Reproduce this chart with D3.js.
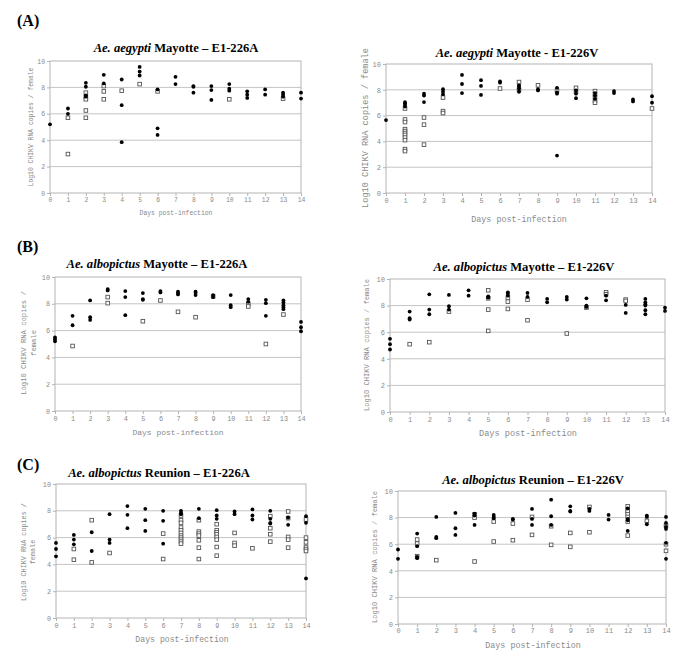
<!DOCTYPE html>
<html>
<head>
<meta charset="utf-8">
<script src="https://cdn.jsdelivr.net/npm/d3@7"></script>
<style>
  body { margin: 0; background: #fff; }
  .tick text, .ylab, .xlab { font-family: "Liberation Mono", "DejaVu Sans Mono", monospace; fill: #8a8a8a; }
  .title, .plab { font-family: "Liberation Serif", "Times New Roman", serif; font-weight: bold; fill: #000; }
</style>
</head>
<body>
<svg id="fig" width="685" height="663"></svg>
<script>
// values: [day, log10 copies]
var days = d3.range(0, 15);
var yTicks = [0, 2, 4, 6, 8, 10];

var aegMayA_filled = [[0,5.2],[1,6.4],[1,6.0],[2,8.35],[2,8.05],[2,7.4],[2,7.3],[3,8.95],[3,8.3],[4,8.6],[4,6.65],[4,3.85],[5,9.55],[5,9.2],[5,8.9],[6,7.85],[6,4.9],[6,4.4],[7,8.8],[7,8.25],[8,8.1],[8,8.05],[8,7.6],[9,8.1],[9,7.8],[9,7.05],[10,8.25],[10,7.9],[10,7.75],[11,7.7],[11,7.45],[11,7.2],[12,7.85],[12,7.45],[13,7.6],[13,7.45],[13,7.3],[14,7.6],[14,7.15]];
var aegMayA_open = [[1,5.7],[1,2.95],[2,7.6],[2,7.25],[2,7.1],[2,6.25],[2,5.7],[3,8.1],[3,7.7],[3,7.1],[4,7.75],[5,8.25],[6,7.7],[10,7.1],[13,7.15]];

var aegMayV_filled = [[0,5.65],[1,7.05],[1,6.95],[1,6.85],[1,6.7],[2,7.7],[2,7.55],[2,7.05],[3,8.05],[3,7.85],[3,7.65],[4,9.15],[4,8.45],[4,7.75],[5,8.75],[5,8.3],[5,7.6],[6,8.65],[6,8.55],[7,8.35],[7,8.25],[7,8.1],[7,7.85],[8,8.05],[8,7.95],[9,8.15],[9,7.8],[9,7.7],[9,2.9],[10,7.95],[10,7.7],[10,7.35],[11,7.75],[11,7.55],[11,7.3],[12,7.9],[12,7.75],[13,7.25],[13,7.1],[14,7.5],[14,7.0]];
var aegMayV_open = [[1,6.55],[1,5.7],[1,5.5],[1,4.95],[1,4.8],[1,4.65],[1,4.5],[1,4.3],[1,4.1],[1,3.4],[1,3.25],[2,5.85],[2,5.3],[2,3.75],[3,7.4],[3,6.35],[3,6.2],[6,8.1],[7,8.6],[7,8.0],[8,8.35],[9,7.95],[10,8.15],[10,7.85],[11,7.9],[11,7.65],[11,7.45],[11,7.15],[11,7.0],[14,6.55]];

var albMayA_filled = [[0,5.5],[0,5.35],[0,5.2],[1,7.1],[1,6.4],[2,8.25],[2,7.0],[2,6.8],[3,9.1],[3,9.0],[4,8.95],[4,8.5],[4,7.15],[5,8.8],[5,8.35],[5,8.3],[6,8.95],[6,8.85],[7,8.9],[7,8.8],[7,8.7],[8,8.9],[8,8.8],[8,8.65],[9,8.65],[9,8.5],[10,8.65],[10,7.9],[10,7.75],[11,8.35],[11,8.15],[12,8.3],[12,8.05],[12,7.1],[13,8.25],[13,8.1],[13,7.9],[13,7.75],[13,7.6],[14,6.65],[14,6.25],[14,5.95]];
var albMayA_open = [[1,4.85],[3,8.5],[3,8.05],[5,6.7],[6,8.25],[7,7.4],[8,7.0],[9,8.55],[11,8.0],[11,7.8],[12,5.0],[13,7.2]];

var albMayV_filled = [[0,5.5],[0,5.1],[0,4.7],[1,7.55],[1,7.05],[1,6.95],[2,8.85],[2,7.7],[2,7.35],[3,8.8],[3,7.95],[3,7.7],[4,9.15],[4,8.75],[5,8.7],[5,8.6],[6,9.0],[6,8.9],[6,8.75],[7,8.95],[7,8.65],[8,8.5],[8,8.25],[9,8.65],[9,8.45],[10,8.55],[10,8.0],[10,7.9],[11,8.75],[11,8.4],[12,8.05],[12,7.45],[13,8.5],[13,8.25],[13,8.1],[13,8.0],[13,7.65],[13,7.35],[14,7.85],[14,7.6]];
var albMayV_open = [[1,5.1],[2,5.25],[3,7.55],[5,9.15],[5,8.55],[5,7.7],[5,6.1],[6,8.6],[6,8.3],[6,7.75],[7,8.45],[7,6.9],[9,5.9],[10,7.85],[11,9.0],[11,8.85],[12,8.45],[12,8.35]];

var albReuA_filled = [[0,5.6],[0,5.15],[0,4.6],[1,6.2],[1,5.85],[1,5.5],[2,6.4],[2,5.0],[3,7.75],[3,5.85],[3,5.6],[4,8.35],[4,7.7],[4,6.7],[5,8.15],[5,7.3],[5,6.5],[6,8.0],[6,7.25],[6,5.55],[7,8.0],[7,7.85],[7,7.75],[8,8.15],[8,7.45],[9,8.05],[9,7.65],[9,7.4],[10,7.95],[10,7.75],[11,8.1],[11,7.65],[11,7.35],[12,8.0],[12,7.4],[12,7.1],[12,7.05],[13,7.5],[13,6.95],[14,7.6],[14,7.1],[14,2.95]];
var albReuA_open = [[1,5.15],[1,4.35],[2,7.3],[2,4.15],[3,4.85],[6,6.3],[6,4.4],[7,7.65],[7,7.3],[7,7.1],[7,6.75],[7,6.55],[7,6.35],[7,6.15],[7,6.0],[7,5.85],[7,5.7],[7,5.55],[8,7.3],[8,6.45],[8,6.3],[8,6.15],[8,5.8],[8,5.25],[8,4.4],[9,7.0],[9,6.55],[9,6.4],[9,6.25],[9,6.05],[9,5.85],[9,5.3],[9,4.65],[10,6.35],[10,5.6],[10,5.4],[11,5.2],[12,7.6],[12,6.7],[12,6.25],[12,5.7],[13,7.95],[13,7.45],[13,6.05],[13,5.85],[13,5.25],[14,7.35],[14,6.0],[14,5.65],[14,5.3],[14,5.15],[14,5.0]];

var albReuV_filled = [[0,5.6],[0,4.9],[1,6.8],[1,5.85],[1,5.05],[1,4.95],[2,8.05],[2,6.55],[2,6.45],[3,8.35],[3,7.2],[3,6.7],[4,8.3],[4,8.15],[4,7.45],[5,8.2],[5,8.05],[5,7.95],[6,7.9],[6,7.85],[7,8.65],[7,7.9],[7,7.45],[8,9.35],[8,8.1],[8,7.45],[9,8.85],[9,8.5],[9,8.45],[10,8.65],[10,8.5],[11,8.2],[11,7.85],[12,8.7],[12,7.9],[12,7.8],[12,7.0],[13,8.15],[13,8.05],[13,7.5],[14,8.05],[14,7.6],[14,7.3],[14,7.15],[14,6.1],[14,4.9]];
var albReuV_open = [[1,6.35],[1,6.05],[1,5.1],[2,4.8],[4,8.25],[4,8.0],[4,4.7],[5,7.7],[5,6.2],[6,7.55],[6,6.3],[7,8.05],[7,6.7],[8,7.35],[8,5.95],[9,6.85],[9,5.8],[10,8.8],[10,6.9],[12,8.85],[12,8.6],[12,8.45],[12,8.25],[12,8.05],[12,7.7],[12,6.65],[13,7.75],[14,7.4],[14,6.0],[14,5.5]];

// panel layout
var panels = [
  {sp: 'Ae. aegypti', rest: ' Mayotte \u2013 E1-226A', filled: aegMayA_filled, open: aegMayA_open,
   x0: 50, x1: 301, y0: 61, y1: 193, tx: 176, ty: 52, ylx: 33, yly: 127, ylf: 6.4, ylines: 1,
   xlx: 176, xly: 215, xlf: 6.4, tf: 6.4, tky: 201},
  {sp: 'Ae. aegypti', rest: ' Mayotte - E1-226V', filled: aegMayV_filled, open: aegMayV_open,
   x0: 386, x1: 652, y0: 64, y1: 193, tx: 517, ty: 57, ylx: 368, yly: 128, ylf: 8.6, ylines: 1,
   xlx: 519, xly: 222, xlf: 8.4, tf: 7, tky: 202},
  {sp: 'Ae. albopictus', rest: ' Mayotte \u2013 E1-226A', filled: albMayA_filled, open: albMayA_open,
   x0: 55, x1: 301, y0: 277, y1: 411, tx: 157, ty: 268, ylx: 26, yly: 343, ylf: 7.2, ylines: 2,
   xlx: 178, xly: 435, xlf: 8, tf: 6.8, tky: 420},
  {sp: 'Ae. albopictus', rest: ' Mayotte \u2013 E1-226V', filled: albMayV_filled, open: albMayV_open,
   x0: 390, x1: 665, y0: 279, y1: 412, tx: 524, ty: 271, ylx: 369, yly: 345, ylf: 7.1, ylines: 1,
   xlx: 528, xly: 436, xlf: 8.6, tf: 7, tky: 421},
  {sp: 'Ae. albopictus', rest: ' Reunion \u2013 E1-226A', filled: albReuA_filled, open: albReuA_open,
   x0: 56, x1: 306, y0: 484, y1: 618, tx: 159, ty: 477, ylx: 26, yly: 552, ylf: 6.8, ylines: 2,
   xlx: 182, xly: 642, xlf: 8.2, tf: 6.8, tky: 627},
  {sp: 'Ae. albopictus', rest: ' Reunion \u2013 E1-226V', filled: albReuV_filled, open: albReuV_open,
   x0: 398, x1: 666, y0: 491, y1: 624, tx: 533, ty: 484, ylx: 377, yly: 557, ylf: 7.1, ylines: 1,
   xlx: 533, xly: 648, xlf: 8.4, tf: 7, tky: 632}
];
var panelLabels = [['(A)', 17, 26], ['(B)', 17, 252], ['(C)', 17, 470]];

var svg = d3.select('#fig');

panelLabels.forEach(function (d) {
    svg.append('text').attr('class', 'plab')
        .attr('x', d[1]).attr('y', d[2])
        .style('font-size', '16px')
        .text(d[0]);
});

panels.forEach(function (p) {
    var x = d3.scaleLinear().domain([0, 14]).range([p.x0, p.x1]);
    var y = d3.scaleLinear().domain([0, 10]).range([p.y1, p.y0]);
    var g = svg.append('g');

    // grid
    g.selectAll('.grid').data([2, 4, 6, 8]).enter().append('line')
        .attr('x1', p.x0).attr('x2', p.x1)
        .attr('y1', function (d) { return y(d); }).attr('y2', function (d) { return y(d); })
        .attr('stroke', '#c4c4c4').attr('stroke-width', 1);

    g.append('rect')
        .attr('x', p.x0).attr('y', p.y0)
        .attr('width', p.x1 - p.x0).attr('height', p.y1 - p.y0)
        .attr('fill', 'none').attr('stroke', '#b4b4b4').attr('stroke-width', 1);

    var xa = g.append('g').attr('transform', 'translate(0,' + p.y1 + ')')
        .call(d3.axisBottom(x).tickValues(days).tickSize(3).tickPadding(p.tky - p.y1 - 3 - p.tf * 0.5));
    var ya = g.append('g').attr('transform', 'translate(' + p.x0 + ',0)')
        .call(d3.axisLeft(y).tickValues(yTicks).tickSize(3).tickPadding(2));
    [xa, ya].forEach(function (a) {
        a.select('.domain').remove();
        a.selectAll('line').attr('stroke', '#b4b4b4');
        a.selectAll('text').style('font-size', p.tf + 'px');
    });

    // title
    var t = g.append('text').attr('class', 'title')
        .attr('x', p.tx).attr('y', p.ty)
        .attr('text-anchor', 'middle')
        .style('font-size', '12.6px');
    t.append('tspan').style('font-style', 'italic').text(p.sp);
    t.append('tspan').text(p.rest);

    // y label
    var yl = g.append('text').attr('class', 'ylab')
        .attr('transform', 'translate(' + [p.ylx, p.yly] + ') rotate(-90)')
        .attr('text-anchor', 'middle')
        .style('font-size', p.ylf + 'px');
    if (p.ylines === 1) {
        yl.text('Log10 CHIKV RNA copies / female');
    } else {
        yl.append('tspan').attr('x', 0).attr('dy', 0).text('Log10 CHIKV RNA copies /');
        yl.append('tspan').attr('x', 0).attr('dy', '1.35em').text('female');
    }

    g.append('text').attr('class', 'xlab')
        .attr('x', p.xlx).attr('y', p.xly)
        .attr('text-anchor', 'middle')
        .style('font-size', p.xlf + 'px')
        .text('Days post-infection');

    // open squares
    var s = 3.6;
    g.selectAll('.sq').data(p.open).enter().append('rect')
        .attr('x', function (d) { return x(d[0]) - s / 2; })
        .attr('y', function (d) { return y(d[1]) - s / 2; })
        .attr('width', s).attr('height', s)
        .attr('fill', 'white').attr('stroke', '#555').attr('stroke-width', 0.9);

    // filled circles
    g.selectAll('.dot').data(p.filled).enter().append('circle')
        .attr('cx', function (d) { return x(d[0]); })
        .attr('cy', function (d) { return y(d[1]); })
        .attr('r', 1.9)
        .attr('fill', '#000');
});
</script>
</body>
</html>
